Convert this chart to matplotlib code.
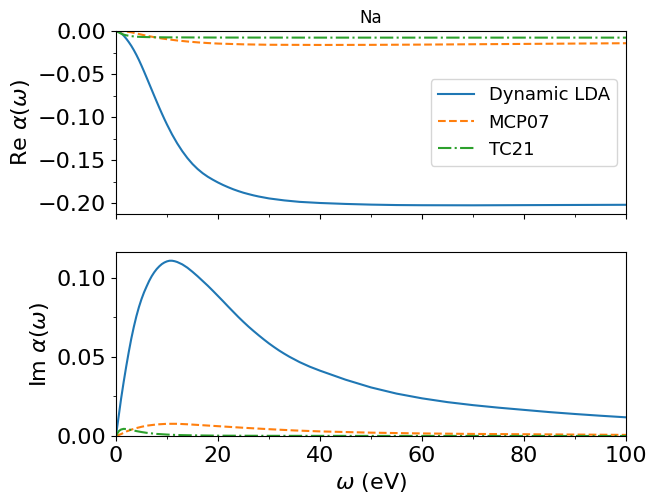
import matplotlib
matplotlib.use("Agg")
import matplotlib.pyplot as plt
from matplotlib.ticker import AutoMinorLocator, MultipleLocator

# ---- data ----
labels = ["Dynamic LDA", "MCP07", "TC21"]

w_re_lda = [0, 0.5, 1, 1.5, 2, 2.5, 3, 3.5, 4, 4.5, 5, 5.5, 6, 6.5, 7, 7.5, 8, 8.5, 9,
            9.5, 10, 11, 12, 13, 14, 15, 16, 17, 18, 19, 20, 21, 22, 23, 24, 25, 26,
            27, 28, 30, 33, 36, 40, 45, 50, 55, 60, 70, 80, 90, 100]
re_lda = [0, -0.0007, -0.0025, -0.0053, -0.0088, -0.0128, -0.0172, -0.0222, -0.0277,
          -0.0337, -0.0402, -0.0470, -0.0540, -0.0611, -0.0682, -0.0753, -0.0823,
          -0.0892, -0.0959, -0.1024, -0.1086, -0.1202, -0.1305, -0.1396, -0.1476,
          -0.1545, -0.1603, -0.1652, -0.1693, -0.1728, -0.1760, -0.1789, -0.1815,
          -0.1839, -0.1860, -0.1879, -0.1895, -0.1910, -0.1923, -0.1945, -0.1968,
          -0.1985, -0.1998, -0.2009, -0.2017, -0.2022, -0.2024, -0.2025, -0.2023,
          -0.2021, -0.2019]

w_re_mcp = [0, 1, 2, 3, 4, 5, 6, 7, 8, 9, 10, 12, 14, 16, 18, 20, 25, 30, 40, 50,
            60, 70, 80, 90, 100]
re_mcp = [0, -0.0002, -0.0006, -0.0015, -0.0028, -0.0042, -0.0055, -0.0066, -0.0077,
          -0.0087, -0.0095, -0.011, -0.0122, -0.0132, -0.014, -0.0146, -0.0155, -0.016,
          -0.0162, -0.0161, -0.0158, -0.0154, -0.015, -0.0146, -0.0142]

w_re_tc = [0, 0.5, 1, 1.5, 2, 3, 4, 5, 7, 10, 20, 40, 60, 80, 100]
re_tc = [0, -0.0015, -0.003, -0.0042, -0.005, -0.006, -0.0066, -0.0069, -0.0072,
         -0.0074, -0.0076, -0.0077, -0.0077, -0.0077, -0.0077]

w_im_lda = [0, 0.5, 1, 1.5, 2, 2.5, 3, 3.5, 4, 4.5, 5, 5.5, 6, 6.5, 7, 7.5, 8, 8.5, 9,
            9.5, 10, 10.5, 11, 11.5, 12, 13, 14, 15, 16, 17, 18, 19, 20, 21, 22, 23,
            24, 25, 26, 27, 28, 29, 30, 31, 32, 33, 34, 36, 38, 40, 45, 50, 55, 60,
            65, 70, 75, 80, 85, 90, 95, 100]
im_lda = [0, 0.0118, 0.0235, 0.0340, 0.0438, 0.0530, 0.0615, 0.0690, 0.0757, 0.0815,
          0.0865, 0.0908, 0.0945, 0.0980, 0.1010, 0.1035, 0.1056, 0.1073, 0.1087,
          0.1097, 0.1104, 0.1108, 0.1108, 0.1105, 0.1100, 0.1085, 0.1064, 0.1038,
          0.1010, 0.0980, 0.0950, 0.0918, 0.0885, 0.0852, 0.0818, 0.0785, 0.0752,
          0.0721, 0.0691, 0.0663, 0.0636, 0.0610, 0.0585, 0.0562, 0.0540, 0.0520,
          0.0501, 0.0467, 0.0438, 0.0413, 0.0356, 0.0307, 0.0268, 0.0238, 0.0214,
          0.0195, 0.0179, 0.0165, 0.0151, 0.0139, 0.0128, 0.0118]

w_im_mcp = [0, 1, 2, 3, 4, 5, 6, 8, 10, 12, 14, 16, 18, 20, 25, 30, 35, 40, 50, 60,
            70, 80, 90, 100]
im_mcp = [0, 0.0012, 0.0028, 0.004, 0.005, 0.0058, 0.0065, 0.0073, 0.0077, 0.0077,
          0.0074, 0.007, 0.0066, 0.0062, 0.0052, 0.0043, 0.0035, 0.0029, 0.0021,
          0.0016, 0.0013, 0.0011, 0.0009, 0.0007]

w_im_tc = [0, 0.3, 0.6, 1, 1.5, 2, 3, 4, 5, 6, 8, 10, 12, 15, 20, 30, 50, 100]
im_tc = [0, 0.0018, 0.0032, 0.0041, 0.0045, 0.0044, 0.0038, 0.0031, 0.0025, 0.002,
         0.0013, 0.0009, 0.0006, 0.0004, 0.0002, 0.0001, 0.00005, 0.0]

# ---- figure ----
fig = plt.figure(figsize=(6.49, 4.96), dpi=100)
ax1 = fig.add_axes([0.1787, 0.5685, 0.7859, 0.369])
ax2 = fig.add_axes([0.1787, 0.121, 0.7859, 0.371], sharex=ax1)

c = ["#1f77b4", "#ff7f0e", "#2ca02c"]
ax1.plot(w_re_lda, re_lda, color=c[0], ls="-", label=labels[0])
ax1.plot(w_re_mcp, re_mcp, color=c[1], ls="--", label=labels[1])
ax1.plot(w_re_tc, re_tc, color=c[2], ls="-.", label=labels[2])

ax2.plot(w_im_lda, im_lda, color=c[0], ls="-")
ax2.plot(w_im_mcp, im_mcp, color=c[1], ls="--")
ax2.plot(w_im_tc, im_tc, color=c[2], ls="-.")

ax1.set_xlim(0, 100)
ax1.set_ylim(top=0)
ax2.set_ylim(bottom=0)

ax1.set_title("Na", fontsize=12)
ax1.set_ylabel(r"Re $\alpha(\omega)$", fontsize=16)
ax2.set_ylabel(r"Im $\alpha(\omega)$", fontsize=16)
ax2.set_xlabel(r"$\omega$ (eV)", fontsize=16)

for ax in (ax1, ax2):
    ax.xaxis.set_major_locator(MultipleLocator(20))
    ax.xaxis.set_minor_locator(AutoMinorLocator(2))
    ax.yaxis.set_major_locator(MultipleLocator(0.05))
    ax.yaxis.set_minor_locator(AutoMinorLocator(2))
    ax.tick_params(labelsize=16)
ax1.tick_params(axis="x", labelbottom=False)

ax1.legend(loc="center right", fontsize=13)

fig.savefig("out.png", dpi=100)
